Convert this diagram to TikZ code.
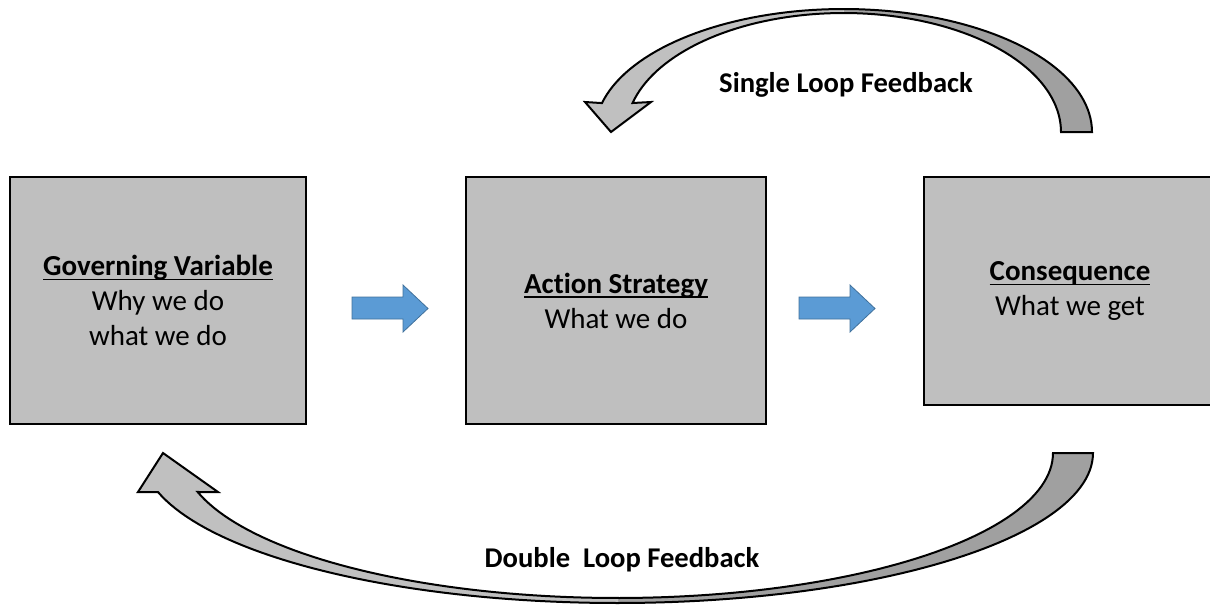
\documentclass[tikz,border=0pt]{standalone}
\usepackage{fontspec}
\setmainfont[Ligatures=NoCommon]{Carlito}
\definecolor{figBoxBg}{RGB}{191,191,191}
\definecolor{figLoopLt}{RGB}{192,192,192}
\definecolor{figLoopDk}{RGB}{160,160,160}
\definecolor{figBlue}{RGB}{91,155,213}
\definecolor{figBlueLine}{RGB}{65,113,156}
\newcommand{\headline}[1]{\setbox0\hbox{\bfseries #1}\rlap{\rule[-2.4pt]{\wd0}{0.7pt}}\box0}

\begin{document}
\begin{tikzpicture}[
  x=0.5pt,y=-0.5pt,
  font=\fontsize{14.5}{17.5}\selectfont,
  block/.style={draw=black,line width=1.2pt,fill=figBoxBg,align=center,inner sep=0pt},
  flow/.style={fill=figBlue,draw=figBlueLine,line width=0.4pt},
  loopline/.style={draw=black,line width=1pt},
  looplabel/.style={font=\fontsize{14.3}{17}\selectfont\bfseries}
]
\useasboundingbox (0,0) rectangle (1210,606);
\clip (0,0) rectangle (1210,606);

\node[block,minimum width=148pt,minimum height=123.5pt] (govern) at (158,300.5) {
  \headline{Governing Variable}\\
  Why we do\\
  what we do
};
\node[block,minimum width=150pt,minimum height=123.5pt] (action) at (616,300.5) {
  \headline{Action Strategy}\\
  What we do
};
\node[block,minimum width=146pt,minimum height=114pt] (conseq) at (1070,291) {
  \headline{Consequence}\\
  What we get
};

% block arrows between the boxes
\coordinate (govtoact) at (352,297);
\coordinate (acttocon) at (799,297);
\filldraw[flow] (govtoact) -- ++(51,0) -- ++(0,-12) -- ++(25,23.5) -- ++(-25,23.5) -- ++(0,-13) -- ++(-51,0) -- cycle;
\filldraw[flow] (acttocon) -- ++(51,0) -- ++(0,-12) -- ++(25,23.5) -- ++(-25,23.5) -- ++(0,-13) -- ++(-51,0) -- cycle;

% single loop: consequence back to action strategy
\fill[figLoopDk] plot[domain=0:90,samples=40] ({843.5+248.5*cos(\x)},{132-123*sin(\x)})
  -- plot[domain=90:0,samples=40] ({843.5+217.5*cos(\x)},{132-119*sin(\x)}) -- cycle;
\fill[figLoopLt] plot[domain=90:166.4,samples=40] ({843.5+248.5*cos(\x)},{132-123*sin(\x)})
  -- (585,102) -- (611,132) -- (651,102)
  -- plot[domain=165.9:90,samples=40] ({843.5+217.5*cos(\x)},{132-119*sin(\x)}) -- cycle;
\draw[loopline] plot[domain=0:166.4,samples=80] ({843.5+248.5*cos(\x)},{132-123*sin(\x)})
  -- (585,102) -- (611,132) -- (651,102)
  -- plot[domain=165.9:0,samples=80] ({843.5+217.5*cos(\x)},{132-119*sin(\x)}) -- cycle;
\node[looplabel] (singlelbl) at (846,85) {Single Loop Feedback};

% double loop: consequence back to governing variable
\fill[figLoopDk] plot[domain=0:90,samples=50] ({617.3+475.7*cos(\x)},{453+150*sin(\x)})
  -- plot[domain=90:0,samples=50] ({617.3+435.7*cos(\x)},{453+145*sin(\x)}) -- cycle;
\fill[figLoopLt] plot[domain=90:164.93,samples=50] ({617.3+475.7*cos(\x)},{453+150*sin(\x)})
  -- (138,492) -- (163,453) -- (218,492)
  -- plot[domain=164.4:90,samples=50] ({617.3+435.7*cos(\x)},{453+145*sin(\x)}) -- cycle;
\draw[loopline] plot[domain=0:164.93,samples=100] ({617.3+475.7*cos(\x)},{453+150*sin(\x)})
  -- (138,492) -- (163,453) -- (218,492)
  -- plot[domain=164.4:0,samples=100] ({617.3+435.7*cos(\x)},{453+145*sin(\x)}) -- cycle;
\node[looplabel] (doublelbl) at (622,560) {Double\ \ Loop Feedback};

\end{tikzpicture}
\end{document}
